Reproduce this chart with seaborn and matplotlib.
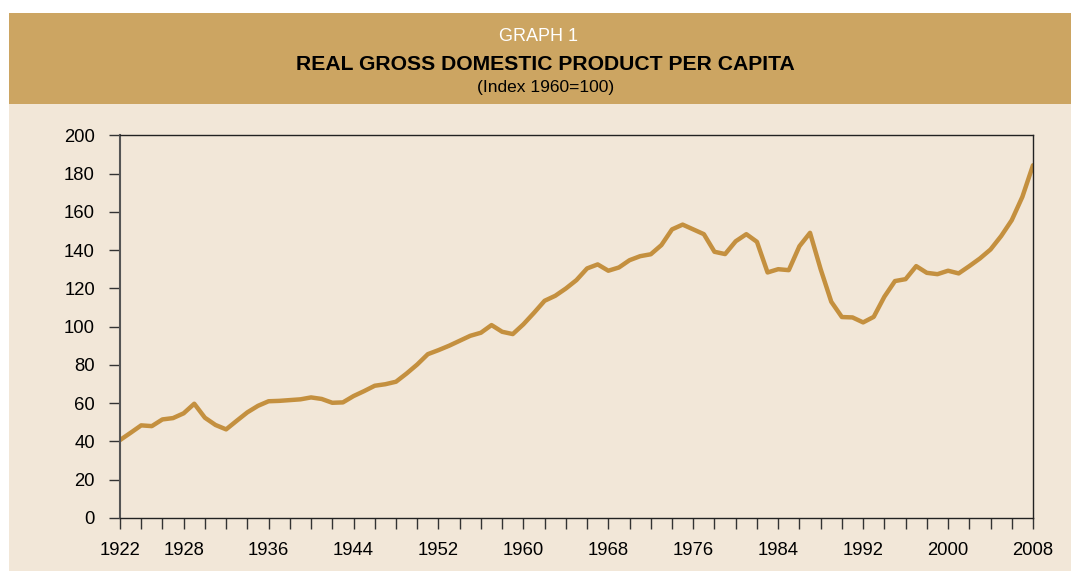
import numpy as np
import pandas as pd
import matplotlib.pyplot as plt
import seaborn as sns
from matplotlib.patches import Rectangle

# values (index 1960=100)
years = list(range(1922, 2009))
gdp_index = [40.7, 44.5, 48.4, 48.0, 51.5, 52.2, 54.7, 59.7, 52.4, 48.6,
             46.3, 50.8, 55.2, 58.6, 61.0, 61.2, 61.6, 62.0, 63.0, 62.2,
             60.2, 60.4, 63.7, 66.3, 69.1, 69.9, 71.2, 75.5, 80.2, 85.6,
             87.7, 90.0, 92.6, 95.2, 96.8, 100.8, 97.3, 96.1, 101.2, 107.2,
             113.5, 116.1, 119.9, 124.3, 130.4, 132.5, 129.2, 130.9, 134.7, 136.8,
             137.8, 142.6, 150.8, 153.3, 150.8, 148.3, 139.1, 137.9, 144.6, 148.3,
             144.3, 128.3, 130.0, 129.5, 142.0, 149.0, 130.0, 113.0, 105.0, 104.8,
             102.2, 105.1, 115.6, 123.8, 124.8, 131.6, 128.1, 127.4, 129.2, 127.8,
             131.6, 135.6, 140.3, 147.3, 155.6, 167.8, 184.3]
x_labels = [1922, 1928, 1936, 1944, 1952, 1960, 1968, 1976, 1984, 1992, 2000, 2008]
y_ticks = list(range(0, 201, 20))

df = pd.DataFrame({'year': years, 'gdp': gdp_index})

gold = '#CCA562'
beige = '#F2E7D8'
line_col = '#C4903F'

sns.set_style('ticks')
plt.rcParams['font.family'] = ['Liberation Sans', 'DejaVu Sans']

fig = plt.figure(figsize=(10.71, 5.73), dpi=100, facecolor='white')

# header band and panel behind the chart
fig.patches.append(Rectangle((0.0084, 0.8185), 0.9916, 0.1588, transform=fig.transFigure,
                             facecolor=gold, edgecolor='none', zorder=-5))
fig.patches.append(Rectangle((0.0084, 0.004), 0.9916, 0.8145, transform=fig.transFigure,
                             facecolor=beige, edgecolor='none', zorder=-5))

fig.text(0.503, 0.936, 'GRAPH 1', color='white', fontsize=13, ha='center', va='center')
fig.text(0.509, 0.888, 'REAL GROSS DOMESTIC PRODUCT PER CAPITA', color='black',
         fontsize=15.2, fontweight='bold', ha='center', va='center')
fig.text(0.509, 0.847, '(Index 1960=100)', color='black', fontsize=12.5, ha='center', va='center')

ax = fig.add_axes([0.112, 0.096, 0.8525, 0.668])
ax.set_zorder(1)
ax.set_facecolor(beige)
sns.lineplot(data=df, x='year', y='gdp', ax=ax, color=line_col, linewidth=3.2)

ax.set_xlim(1922, 2008)
ax.set_ylim(0, 200)
ax.set_yticks(y_ticks)
tick_pos = list(range(1922, 2009, 2))
ax.set_xticks(tick_pos)
ax.set_xticklabels([str(t) if t in x_labels else '' for t in tick_pos])
ax.set_xlabel('')
ax.set_ylabel('')

for s in ax.spines.values():
    s.set_visible(True)
    s.set_linewidth(1.0)
    s.set_color('#222222')
ax.spines['left'].set_color('#555555')
ax.spines['left'].set_linewidth(1.5)

ax.tick_params(axis='both', direction='out', length=8, width=1, color='#333333',
               labelsize=13.3, labelcolor='black')
ax.tick_params(axis='x', pad=9)
ax.tick_params(axis='y', pad=10)

fig.savefig('out.png', dpi=100, facecolor='white')
